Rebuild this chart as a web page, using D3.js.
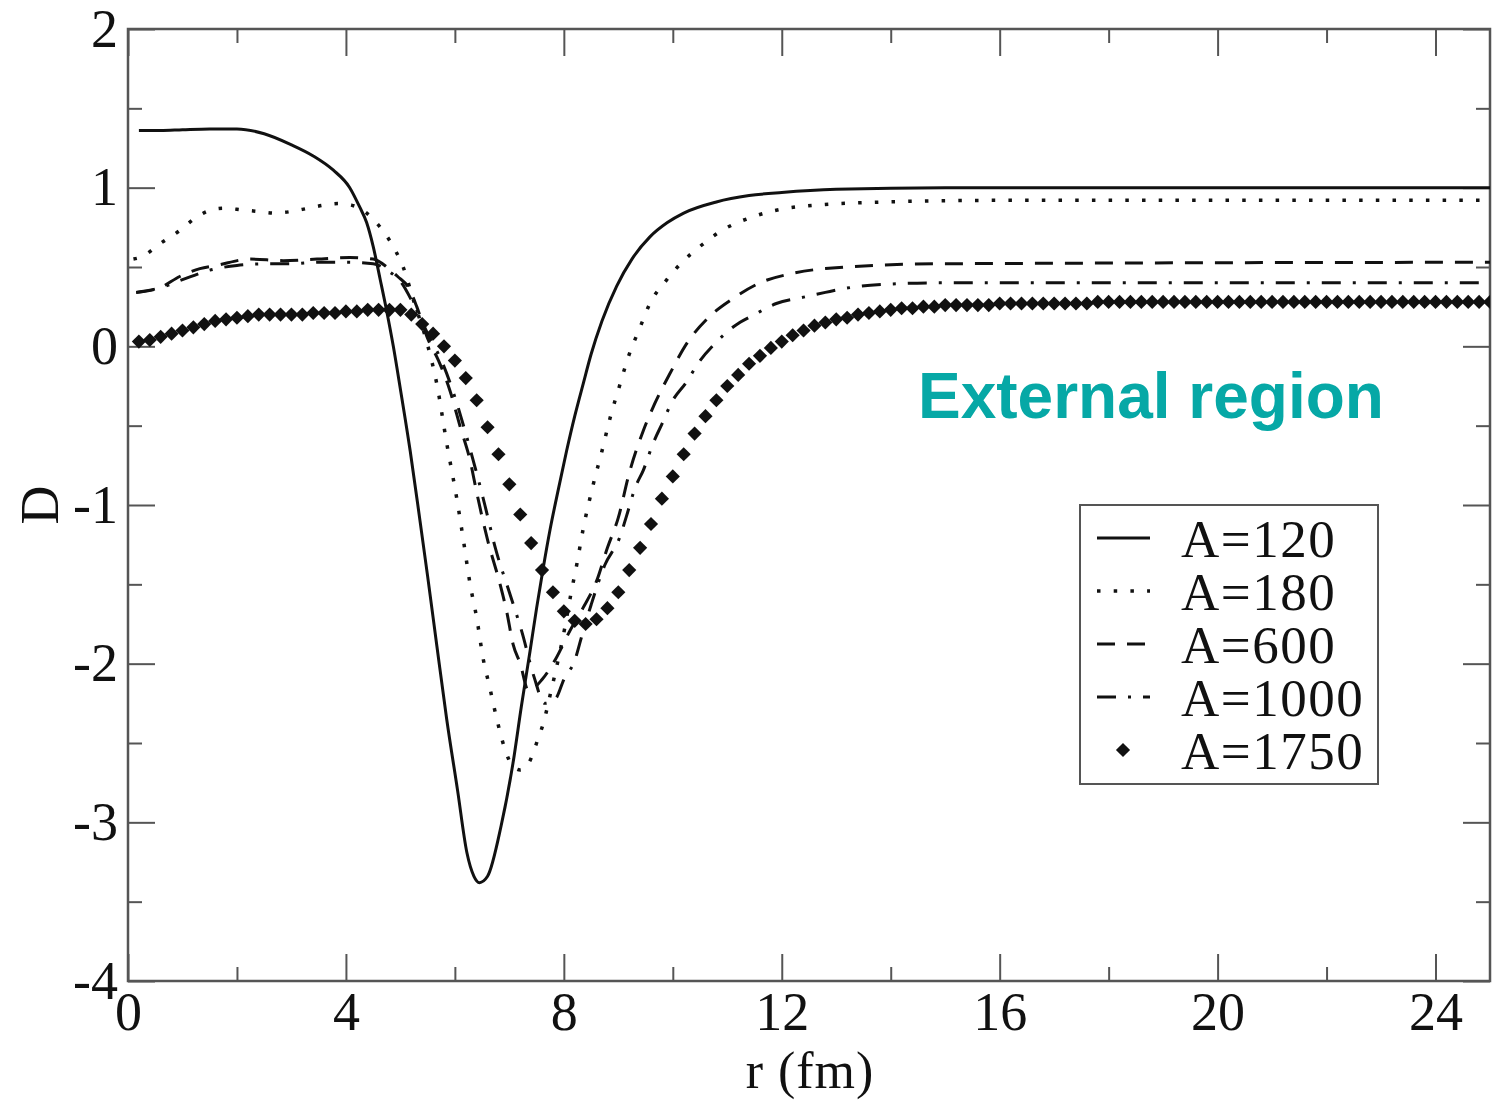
<!DOCTYPE html>
<html>
<head>
<meta charset="utf-8">
<script src="https://cdn.jsdelivr.net/npm/d3@7"></script>
<style>
  body { margin: 0; background: #fff; }
  svg { display: block; }
</style>
</head>
<body>
<div id="chart"></div>
<script>
// values: [r (fm), D]
const a120 = [[0.2,1.36],[0.6,1.36],[1.0,1.365],[1.5,1.37],[2.0,1.37],[2.5,1.34],[3.0,1.27],[3.4,1.2],[3.77,1.11],[4.07,1.0],[4.25,0.88],[4.38,0.78],[4.5,0.63],[4.63,0.42],[4.75,0.22],[4.87,0.0],[5.0,-0.27],[5.18,-0.66],[5.36,-1.1],[5.5,-1.45],[5.67,-1.89],[5.85,-2.35],[6.05,-2.8],[6.22,-3.19],[6.35,-3.34],[6.45,-3.38],[6.6,-3.34],[6.85,-3.02],[7.07,-2.62],[7.22,-2.27],[7.38,-1.92],[7.5,-1.65],[7.62,-1.40],[7.75,-1.15],[7.9,-0.9],[8.05,-0.66],[8.2,-0.44],[8.36,-0.23],[8.5,-0.05],[8.7,0.16],[8.97,0.38],[9.25,0.55],[9.58,0.69],[9.9,0.78],[10.2,0.84],[10.8,0.91],[11.4,0.95],[12.0,0.97],[13.0,0.99],[15.0,1.0],[25,1.0]];

const a180 = [[0.1,0.55],[0.22,0.56],[0.6,0.65],[0.95,0.73],[1.2,0.8],[1.45,0.85],[1.75,0.87],[2.1,0.86],[2.4,0.85],[2.7,0.84],[3.0,0.85],[3.3,0.87],[3.6,0.89],[3.86,0.90],[4.1,0.89],[4.38,0.84],[4.63,0.75],[4.93,0.59],[5.05,0.50],[5.25,0.28],[5.49,0.02],[5.67,-0.24],[5.85,-0.61],[6.04,-0.97],[6.16,-1.23],[6.28,-1.5],[6.4,-1.71],[6.52,-1.97],[6.64,-2.15],[6.77,-2.35],[6.92,-2.54],[7.05,-2.64],[7.2,-2.67],[7.35,-2.63],[7.53,-2.47],[7.62,-2.38],[7.76,-2.18],[7.9,-1.97],[8.02,-1.77],[8.13,-1.56],[8.24,-1.37],[8.35,-1.16],[8.54,-0.87],[8.7,-0.66],[8.85,-0.45],[9.03,-0.24],[9.18,-0.07],[9.4,0.12],[9.58,0.27],[9.89,0.42],[10.2,0.54],[10.5,0.63],[10.9,0.73],[11.5,0.82],[12.3,0.88],[13.9,0.91],[16,0.92],[25,0.92]];

const a600 = [[0.15,0.34],[0.59,0.37],[0.95,0.44],[1.32,0.49],[1.63,0.51],[2.24,0.55],[2.85,0.54],[3.47,0.55],[4.07,0.56],[4.5,0.55],[4.75,0.5],[4.95,0.44],[5.15,0.37],[5.3,0.25],[5.5,0.05],[5.7,-0.09],[5.91,-0.28],[6.1,-0.51],[6.28,-0.72],[6.4,-0.92],[6.6,-1.22],[6.83,-1.5],[6.95,-1.67],[7.07,-1.88],[7.2,-2.0],[7.35,-2.17],[7.6,-2.1],[7.85,-1.97],[8.1,-1.8],[8.35,-1.65],[8.6,-1.48],[8.8,-1.27],[9.0,-1.08],[9.2,-0.8],[9.46,-0.53],[9.67,-0.36],[9.95,-0.17],[10.26,0.02],[10.65,0.18],[11.1,0.30],[11.6,0.40],[12.2,0.46],[12.8,0.49],[14.8,0.52],[25,0.53]];

const a1000 = [[0.15,0.34],[0.6,0.37],[1.0,0.42],[1.5,0.48],[2.0,0.51],[2.5,0.52],[3.0,0.52],[3.5,0.53],[4.0,0.53],[4.5,0.52],[4.8,0.47],[5.0,0.41],[5.25,0.26],[5.5,0.08],[5.78,-0.11],[6.0,-0.32],[6.2,-0.55],[6.4,-0.8],[6.55,-1.0],[6.75,-1.28],[7.0,-1.55],[7.23,-1.8],[7.45,-2.08],[7.65,-2.25],[7.85,-2.22],[8.0,-2.1],[8.2,-1.98],[8.35,-1.8],[8.5,-1.63],[8.75,-1.38],[9.03,-1.2],[9.15,-1.07],[9.31,-0.89],[9.46,-0.78],[9.64,-0.61],[9.8,-0.49],[10.0,-0.34],[10.24,-0.23],[10.5,-0.09],[10.78,0.02],[11.14,0.13],[11.5,0.20],[11.9,0.27],[12.4,0.31],[12.8,0.34],[13.25,0.37],[13.86,0.39],[14.8,0.40],[25,0.40]];

// A=1750 is drawn as symbols, one every 0.2 fm from r = 0.2 to 25
const r1750 = d3.range(1, 126).map(i => +(i * 0.2).toFixed(1));
const d1750 = [
  0.03,0.04,0.06,0.08,0.10,0.12,0.14,0.16,0.17,0.18,0.19,0.20,0.20,0.20,0.20,0.20,0.21,0.21,0.21,0.22,0.22,0.23,0.23,0.23,0.23,
  0.20,0.14,0.08,0.00,-0.09,-0.20,-0.34,-0.51,-0.68,-0.87,-1.06,-1.24,-1.41,-1.55,-1.67,-1.73,-1.75,-1.72,-1.65,-1.55,-1.41,-1.27,-1.12,-0.96,-0.82,
  -0.68,-0.55,-0.44,-0.34,-0.25,-0.18,-0.11,-0.06,-0.01,0.03,0.07,0.10,0.13,0.15,0.17,0.18,0.20,0.21,0.22,0.23,0.24,0.24,0.25,0.25,0.26,
  0.26,0.26,0.26,0.26,0.27,0.27,0.27,0.27,0.27,0.27,0.27,0.27,0.27,0.28,0.28,0.28,0.28,0.28,0.28,0.28,0.28,0.28,0.28,0.28,0.28,
  0.28,0.28,0.28,0.28,0.28,0.28,0.28,0.28,0.28,0.28,0.28,0.28,0.28,0.28,0.28,0.28,0.28,0.28,0.28,0.28,0.28,0.28,0.28,0.28,0.28
];

const xTicks = [0, 4, 8, 12, 16, 20, 24];
const xMinor = [2, 6, 10, 14, 18, 22];
const yTicks = [-4, -3, -2, -1, 0, 1, 2];
const yMinor = [-3.5, -2.5, -1.5, -0.5, 0.5, 1.5];
const legendLabels = ["A=120", "A=180", "A=600", "A=1000", "A=1750"];

const width = 1495;
const height = 1103;
const margin = { top: 29, right: 5, bottom: 122, left: 128 };
const serif = "'Liberation Serif', 'Times New Roman', serif";
const ink = "#111";
const axisColor = "#555";

const svg = d3.select("#chart")
  .append("svg")
  .attr("width", width)
  .attr("height", height);

const x = d3.scaleLinear().domain([0, 25]).range([margin.left, width - margin.right]);
const y = d3.scaleLinear().domain([-4, 2]).range([height - margin.bottom, margin.top]);

svg.append("defs").append("clipPath").attr("id", "plot-clip")
  .append("rect")
  .attr("x", x(0)).attr("y", y(2))
  .attr("width", x(25) - x(0)).attr("height", y(-4) - y(2));

const fmt = d => (d < 0 ? "-" + Math.abs(d) : String(d));

// axes, ticks pointing inward on all four sides
function styleAxis(g) {
  g.select(".domain").remove();
  g.selectAll(".tick line").attr("stroke", axisColor).attr("stroke-width", 2);
  g.selectAll("text")
    .attr("fill", ink)
    .style("font-family", serif)
    .style("font-size", "54px");
}

svg.append("g")
  .attr("transform", `translate(0,${y(-4)})`)
  .call(d3.axisBottom(x).tickValues(xTicks).tickFormat(fmt).tickSize(-27).tickPadding(11))
  .call(styleAxis);
svg.append("g")
  .attr("transform", `translate(0,${y(-4)})`)
  .call(d3.axisBottom(x).tickValues(xMinor).tickFormat("").tickSize(-14))
  .call(styleAxis);
svg.append("g")
  .attr("transform", `translate(0,${y(2)})`)
  .call(d3.axisTop(x).tickValues(xTicks).tickFormat("").tickSize(-27))
  .call(styleAxis);
svg.append("g")
  .attr("transform", `translate(0,${y(2)})`)
  .call(d3.axisTop(x).tickValues(xMinor).tickFormat("").tickSize(-14))
  .call(styleAxis);

svg.append("g")
  .attr("transform", `translate(${x(0)},0)`)
  .call(d3.axisLeft(y).tickValues(yTicks).tickFormat(fmt).tickSize(-27).tickPadding(10))
  .call(styleAxis);
svg.append("g")
  .attr("transform", `translate(${x(0)},0)`)
  .call(d3.axisLeft(y).tickValues(yMinor).tickFormat("").tickSize(-14))
  .call(styleAxis);
svg.append("g")
  .attr("transform", `translate(${x(25)},0)`)
  .call(d3.axisRight(y).tickValues(yTicks).tickFormat("").tickSize(-27))
  .call(styleAxis);
svg.append("g")
  .attr("transform", `translate(${x(25)},0)`)
  .call(d3.axisRight(y).tickValues(yMinor).tickFormat("").tickSize(-14))
  .call(styleAxis);

// frame
svg.append("rect")
  .attr("x", x(0)).attr("y", y(2))
  .attr("width", x(25) - x(0)).attr("height", y(-4) - y(2))
  .attr("fill", "none")
  .attr("stroke", axisColor)
  .attr("stroke-width", 2.5);

// axis titles
svg.append("text")
  .attr("transform", `translate(58,${y(-1)}) rotate(-90)`)
  .attr("text-anchor", "middle")
  .style("font-family", serif)
  .style("font-size", "54px")
  .attr("fill", ink)
  .text("D");

svg.append("text")
  .attr("x", (x(0) + x(25)) / 2 + 1)
  .attr("y", 1088)
  .attr("text-anchor", "middle")
  .style("font-family", serif)
  .style("font-size", "52px")
  .style("letter-spacing", "1px")
  .attr("fill", ink)
  .text("r (fm)");

// curves
const line = d3.line()
  .x(d => x(d[0]))
  .y(d => y(d[1]))
  .curve(d3.curveMonotoneX);

const styles = [
  { data: a120, dash: null, w: 3 },
  { data: a180, dash: "3.5 13.2", w: 3.5 },
  { data: a600, dash: "18 12", w: 3 },
  { data: a1000, dash: "19 12 3 12", w: 3 }
];

const plot = svg.append("g").attr("clip-path", "url(#plot-clip)");

plot.selectAll("path.curve")
  .data(styles)
  .enter()
  .append("path")
  .attr("class", "curve")
  .attr("d", d => line(d.data))
  .attr("fill", "none")
  .attr("stroke", ink)
  .attr("stroke-width", d => d.w)
  .attr("stroke-dasharray", d => d.dash);

const diamondType = d3.symbolDiamond2 || d3.symbolDiamond;
const diamond = d3.symbol().type(diamondType).size(128);

plot.selectAll("path.pt")
  .data(r1750.map((r, i) => [r, d1750[i]]))
  .enter()
  .append("path")
  .attr("class", "pt")
  .attr("d", diamond)
  .attr("transform", d => `translate(${x(d[0])},${y(d[1])})`)
  .attr("fill", ink);

// legend
const legend = svg.append("g").attr("transform", "translate(1080,505)");
legend.append("rect")
  .attr("width", 298).attr("height", 279)
  .attr("fill", "#fff")
  .attr("stroke", axisColor)
  .attr("stroke-width", 2);

const rows = legend.selectAll("g.row")
  .data(legendLabels)
  .enter()
  .append("g")
  .attr("class", "row")
  .attr("transform", (d, i) => `translate(0,${33 + i * 53})`);

rows.filter((d, i) => i < 4)
  .append("line")
  .attr("x1", 17).attr("x2", 70)
  .attr("stroke", ink)
  .attr("stroke-width", (d, i) => styles[i].w)
  .attr("stroke-dasharray", (d, i) => styles[i].dash);

rows.filter((d, i) => i === 4)
  .append("path")
  .attr("d", diamond)
  .attr("transform", "translate(43,0)")
  .attr("fill", ink);

rows.append("text")
  .attr("x", 101)
  .attr("dy", "0.36em")
  .style("font-family", serif)
  .style("font-size", "53px")
  .style("letter-spacing", "1.5px")
  .attr("fill", ink)
  .text(d => d);

// annotation
svg.append("text")
  .attr("x", 918)
  .attr("y", 418)
  .style("font-family", "'Liberation Sans', Arial, sans-serif")
  .style("font-weight", "bold")
  .style("font-size", "64px")
  .attr("fill", "#06a8a6")
  .text("External region");
</script>
</body>
</html>
